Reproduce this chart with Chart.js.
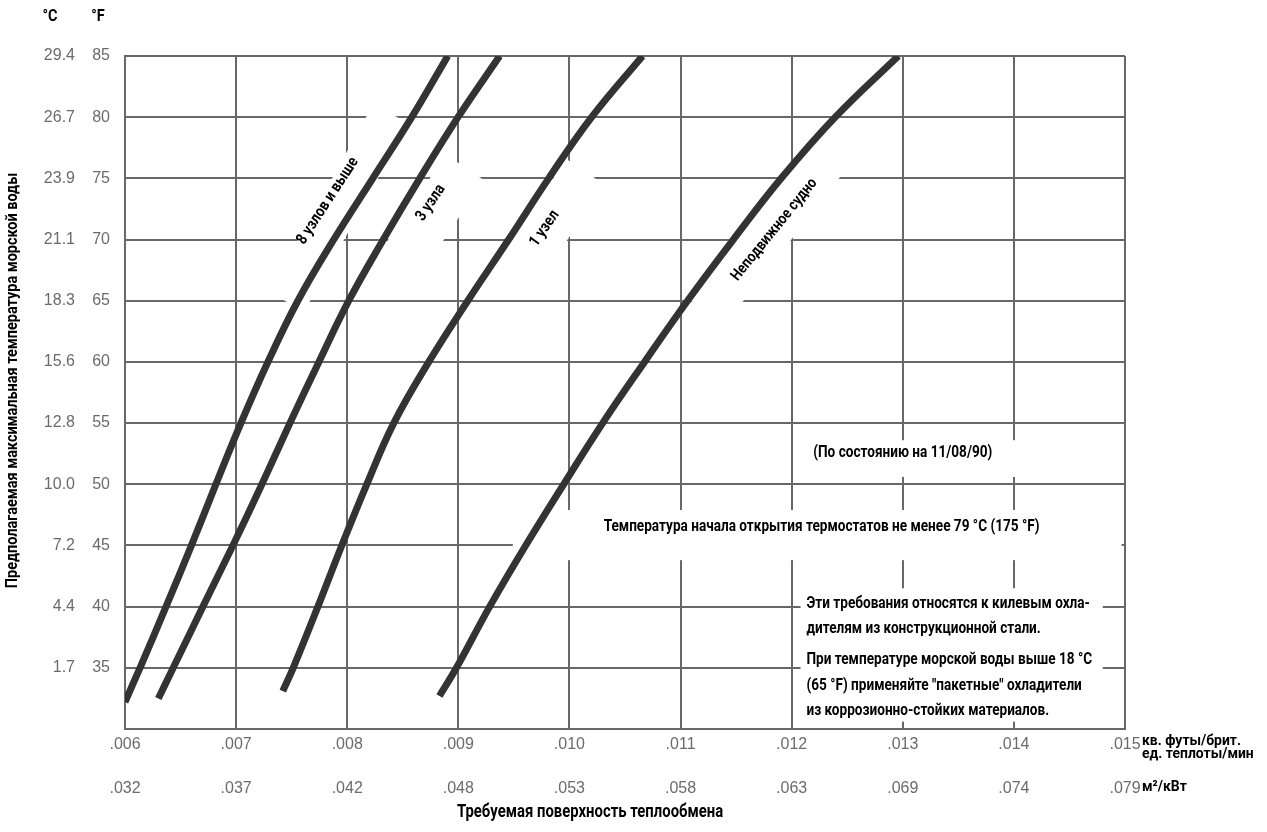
<!DOCTYPE html>
<html lang="ru">
<head>
<meta charset="utf-8">
<title>Килевые охладители</title>
<script src="https://cdn.jsdelivr.net/npm/chart.js@4.4.1/dist/chart.umd.min.js"></script>
<style>
  html, body { margin: 0; padding: 0; background: #fff; }
  #wrap { width: 1267px; height: 832px; }
</style>
</head>
<body>
<div id="wrap"><canvas id="grafico"></canvas></div>
<script>
// температура морской воды (°F) и требуемая поверхность (кв. футы/брит. ед. теплоты/мин)
const temp8 = [32.2, 35, 40, 45, 50, 55, 60, 65, 70, 75, 80, 85];
const area8 = [0.00600, 0.006135, 0.006369, 0.006598, 0.006818, 0.007043, 0.007286, 0.007556, 0.007879, 0.008230, 0.008581, 0.008905];

const temp3 = [32.5, 35, 40, 45, 50, 55, 60, 65, 70, 75, 80, 85];
const area3 = [0.00630, 0.006434, 0.006701, 0.006971, 0.007232, 0.007484, 0.007745, 0.008014, 0.008325, 0.008653, 0.008997, 0.009372];

const temp1 = [33.1, 35, 40, 45, 50, 55, 60, 65, 70, 75, 80, 85];
const area1 = [0.00742, 0.007514, 0.007736, 0.007951, 0.008176, 0.008419, 0.008734, 0.009085, 0.009453, 0.009813, 0.010200, 0.010658];

const tempParado = [32.7, 35, 40, 45, 50, 55, 60, 65, 70, 75, 80, 85];
const areaParado = [0.00883, 0.008983, 0.009282, 0.009606, 0.009948, 0.010299, 0.010676, 0.011063, 0.011475, 0.011906, 0.012392, 0.012960];

// подписи делений
const ticksF = ['', '35', '40', '45', '50', '55', '60', '65', '70', '75', '80', '85'];
const ticksC = ['', '1.7', '4.4', '7.2', '10.0', '12.8', '15.6', '18.3', '21.1', '23.9', '26.7', '29.4'];
const ticksPes = ['.006', '.007', '.008', '.009', '.010', '.011', '.012', '.013', '.014', '.015'];
const ticksM2 = ['.032', '.037', '.042', '.048', '.053', '.058', '.063', '.069', '.074', '.079'];

const corGrade = '#686868';
const corCurva = '#333333';
const fonteCond = 'Roboto, "Liberation Sans", sans-serif';

// подписи кривых (позиция в единицах осей) и белые полосы под ними
const rotulos = [
  { texto: '8 узлов и выше', tam: 16, x: 0.007826, y: 73.15, ang: -57, fx: 0.007924, fy: 72.6, fang: -61, comp: 215, larg: 40 },
  { texto: '3 узла', tam: 16, x: 0.008752, y: 73.0, ang: -56, fx: 0.008770, fy: 72.0, fang: -56, comp: 115, larg: 46 },
  { texto: '1 узел', tam: 16, x: 0.009777, y: 70.9, ang: -55, fx: 0.009830, fy: 71.3, fang: -56, comp: 125, larg: 46 },
  { texto: 'Неподвижное судно', tam: 15.5, x: 0.011845, y: 70.8, ang: -51, fx: 0.011800, fy: 70.9, fang: -52, comp: 210, larg: 48 }
];

// белые прямоугольники под текстом справа
const caixas = [
  { x0: 0.01203, x1: 0.01407, y0: 50.6, y1: 53.6 },
  { x0: 0.00949, x1: 0.01497, y0: 43.8, y1: 47.9 },
  { x0: 0.01208, x1: 0.01480, y0: 30.6, y1: 41.5 }
];

const notas = [
  'Эти требования относятся к килевым охла-',
  'дителям из конструкционной стали.',
  'При температуре морской воды выше 18 °C',
  '(65 °F) применяйте "пакетные" охладители',
  'из коррозионно-стойких материалов.'
];
const notasY = [40.2, 38.15, 35.6, 33.55, 31.5];

function pontos(xs, ys) {
  return xs.map((x, i) => ({ x: x, y: ys[i] }));
}

function escrever(ctx, txt, x, y, tam, opts = {}) {
  ctx.save();
  ctx.translate(x, y);
  if (opts.ang) ctx.rotate(opts.ang * Math.PI / 180);
  ctx.scale(opts.sx || 0.85, 1);
  ctx.font = 'bold ' + tam + 'px ' + fonteCond;
  ctx.fillStyle = opts.cor || '#000';
  ctx.textAlign = opts.align || 'left';
  ctx.textBaseline = 'middle';
  ctx.fillText(txt, 0, 0);
  ctx.restore();
}

const fundoBranco = {
  id: 'fundoBranco',
  beforeDatasetsDraw(chart) {
    const { ctx, scales: { x, y } } = chart;
    ctx.save();
    ctx.fillStyle = '#fff';
    caixas.forEach(c => {
      const x0 = x.getPixelForValue(c.x0), x1 = x.getPixelForValue(c.x1);
      const y0 = y.getPixelForValue(c.y0), y1 = y.getPixelForValue(c.y1);
      ctx.fillRect(x0, y1, x1 - x0, y0 - y1);
    });
    rotulos.forEach(r => {
      ctx.save();
      ctx.translate(x.getPixelForValue(r.fx), y.getPixelForValue(r.fy));
      ctx.rotate(r.fang * Math.PI / 180);
      ctx.fillRect(-r.comp / 2, -r.larg / 2, r.comp, r.larg);
      ctx.restore();
    });
    ctx.restore();
  }
};

const textos = {
  id: 'textos',
  afterDraw(chart) {
    const { ctx, chartArea: ca, scales: { x, y } } = chart;

    rotulos.forEach(r => {
      escrever(ctx, r.texto, x.getPixelForValue(r.x), y.getPixelForValue(r.y), r.tam, { ang: r.ang, align: 'center' });
    });

    escrever(ctx, '(По состоянию на 11/08/90)', x.getPixelForValue(0.0130), y.getPixelForValue(52.55), 16, { align: 'center' });
    escrever(ctx, 'Температура начала открытия термостатов не менее 79 °C (175 °F)',
      x.getPixelForValue(0.010308), y.getPixelForValue(46.5), 16);
    notas.forEach((t, i) => {
      escrever(ctx, t, x.getPixelForValue(0.012133), y.getPixelForValue(notasY[i]), 16);
    });

    // заголовки колонок шкалы температуры
    escrever(ctx, '°C', ca.left - 75, 17, 17, { align: 'center' });
    escrever(ctx, '°F', ca.left - 27, 17, 17, { align: 'center' });

    // названия осей
    escrever(ctx, 'Предполагаемая максимальная температура морской воды', 13, (ca.top + ca.bottom) / 2 - 12, 17, { ang: -90, align: 'center' });
    escrever(ctx, 'Требуемая поверхность теплообмена', ca.left + 465, 813, 17.5, { align: 'center' });

    // единицы
    escrever(ctx, 'кв. футы/брит.', ca.right + 17, 741, 15, { sx: 0.93 });
    escrever(ctx, 'ед. теплоты/мин', ca.right + 17, 754, 15, { sx: 0.93 });
    escrever(ctx, 'м²/кВт', ca.right + 17, 787, 15, { sx: 0.93 });
  }
};

const fonteTick = { family: '"Liberation Sans", Arial, sans-serif', size: 16 };
const corTick = '#6b6b6b';

const ctx = document.getElementById('grafico').getContext('2d');
new Chart(ctx, {
  type: 'line',
  data: {
    datasets: [
      { label: '8 узлов и выше', data: pontos(area8, temp8) },
      { label: '3 узла', data: pontos(area3, temp3) },
      { label: '1 узел', data: pontos(area1, temp1) },
      { label: 'Неподвижное судно', data: pontos(areaParado, tempParado) }
    ].map(d => Object.assign(d, {
      borderColor: corCurva,
      borderWidth: 7,
      pointRadius: 0,
      fill: false,
      tension: 0.4,
      borderCapStyle: 'butt'
    }))
  },
  options: {
    responsive: true,
    maintainAspectRatio: false,
    animation: false,
    layout: { padding: { top: 56, right: 142, left: 0, bottom: 0 } },
    scales: {
      x: {
        type: 'linear', position: 'bottom', min: 0.006, max: 0.015,
        grid: { color: corGrade, lineWidth: 2, drawTicks: false },
        border: { color: corGrade, width: 2 },
        ticks: { stepSize: 0.001, padding: 6, maxRotation: 0, autoSkip: false, color: corTick, font: fonteTick,
          callback: (v, i) => ticksPes[i] },
        afterFit: s => { s.height = 34; }
      },
      x2: {
        type: 'linear', position: 'bottom', weight: 1, min: 0.006, max: 0.015,
        grid: { display: false, drawTicks: false },
        border: { display: false },
        ticks: { stepSize: 0.001, padding: 16, maxRotation: 0, autoSkip: false, color: corTick, font: fonteTick,
          callback: (v, i) => ticksM2[i] },
        afterFit: s => { s.height = 69; }
      },
      y: {
        type: 'linear', position: 'left', min: 30, max: 85,
        grid: { color: corGrade, lineWidth: 2, drawTicks: false },
        border: { color: corGrade, width: 2 },
        ticks: { stepSize: 5, padding: 15, autoSkip: false, color: corTick, font: fonteTick,
          callback: (v, i) => ticksF[i] },
        afterFit: s => { s.width = 50; }
      },
      yC: {
        type: 'linear', position: 'left', weight: 1, min: 30, max: 85,
        grid: { display: false, drawTicks: false },
        border: { display: false },
        ticks: { stepSize: 5, padding: 0, autoSkip: false, color: corTick, font: fonteTick,
          callback: (v, i) => ticksC[i] },
        afterFit: s => { s.width = 75; }
      }
    },
    plugins: {
      legend: { display: false },
      tooltip: { enabled: false }
    }
  },
  plugins: [fundoBranco, textos]
});
</script>
</body>
</html>
